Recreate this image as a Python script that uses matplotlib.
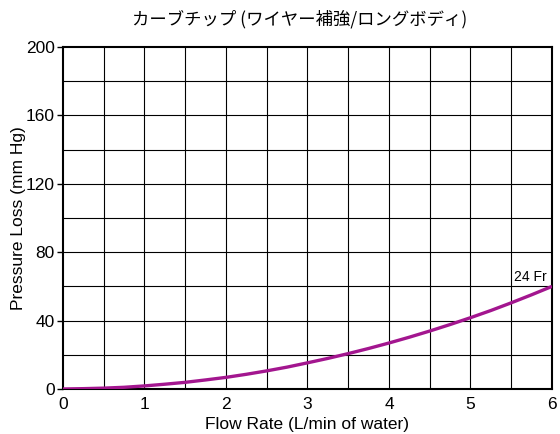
import numpy as np
import matplotlib
matplotlib.use("Agg")
import matplotlib.pyplot as plt

# data
flow = [0, 0.25, 0.5, 0.75, 1, 1.25, 1.5, 1.75, 2, 2.25, 2.5, 2.75, 3,
        3.25, 3.5, 3.75, 4, 4.25, 4.5, 4.75, 5, 5.25, 5.5, 5.75, 6]
loss_24fr = [0, 0.2, 0.5, 1, 1.8, 2.8, 3.9, 5.3, 6.8, 8.6, 10.6, 12.8, 15.3,
             17.9, 20.7, 23.7, 26.9, 30.3, 33.9, 37.7, 41.7, 45.9, 50.4, 55.1, 60]

x_ticks = [0, 1, 2, 3, 4, 5, 6]
y_ticks = [0, 40, 80, 120, 160, 200]

title = "カーブチップ (ワイヤー補強/ロングボディ)"
line_color = "#a3168f"

plt.rcParams['font.family'] = ['Liberation Sans', 'Noto Sans CJK JP', 'DejaVu Sans']

fig = plt.figure(figsize=(5.6, 4.34), dpi=100)
ax = fig.add_axes([0.1125, 0.1037, 0.8732, 0.788])

# grid every 0.5 L/min and every 20 mm Hg, thin black lines
for xv in np.arange(0.5, 6, 0.5):
    ax.axvline(xv, color="black", lw=0.8, zorder=1)
for yv in np.arange(20, 200, 20):
    ax.axhline(yv, color="black", lw=0.8, zorder=1)

ax.plot(flow, loss_24fr, color=line_color, lw=2.4, zorder=3, solid_capstyle="butt")
ax.text(5.74, 61.5, "24 Fr", ha="center", va="bottom", fontsize=10)

ax.set_xlim(0, 6)
ax.set_ylim(0, 200)
ax.set_xticks(x_ticks)
ax.set_yticks(y_ticks)
ax.tick_params(axis="x", length=0, labelsize=12.5, pad=6)
ax.tick_params(axis="y", length=4, width=1, labelsize=12.5, pad=2)
for s in ax.spines.values():
    s.set_linewidth(1.5)

ax.set_xlabel("Flow Rate (L/min of water)", fontsize=12.5, va="center")
ax.xaxis.set_label_coords(0.5, -0.105)
ax.set_ylabel("Pressure Loss (mm Hg)", fontsize=12.5, va="center")
ax.yaxis.set_label_coords(-0.092, 0.5)
fig.text(0.535, 0.955, title, ha="center", va="center", fontsize=12.5,
         family=['Noto Sans CJK JP', 'Liberation Sans'])

fig.savefig("out.png", dpi=100)
